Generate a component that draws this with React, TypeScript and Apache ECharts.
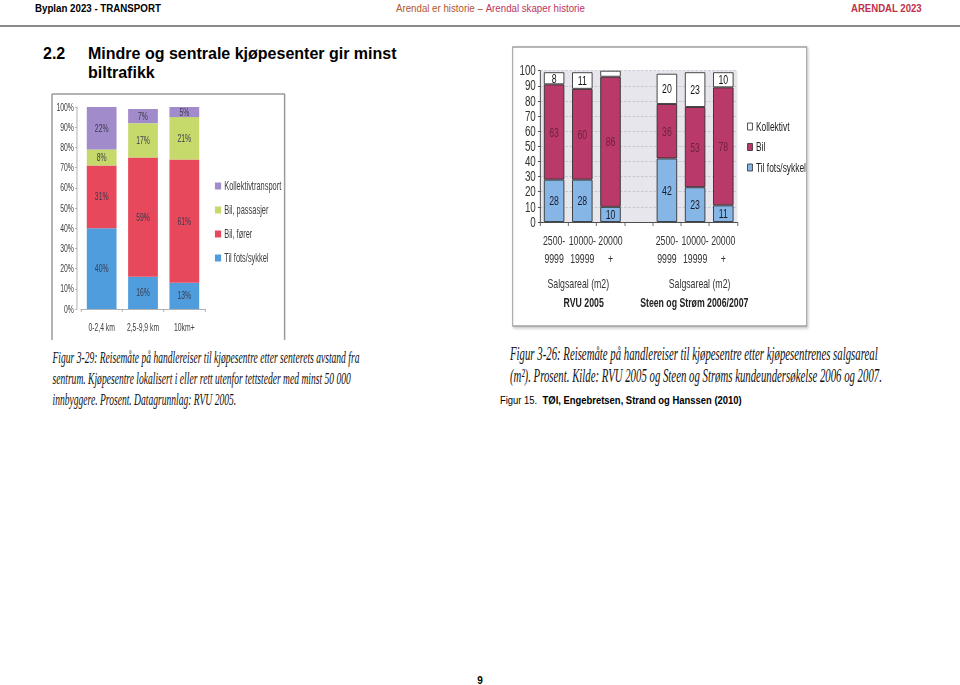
import React, { useEffect, useRef } from 'react';
import * as echarts from 'echarts';

// ---------- Data: Figur 3-29 (left chart) ----------
const leftCategories = ['0-2,4 km', '2,5-9,9 km', '10km+'];
const leftFots = [40, 16, 13];
const leftForer = [31, 59, 61];
const leftPassasjer = [8, 17, 21];
const leftKollektiv = [22, 7, 5];
const leftLegend = ['Kollektivtransport', 'Bil, passasjer', 'Bil, fører', 'Til fots/sykkel'];

// ---------- Data: Figur 3-26 (right chart) ----------
const rightCategories = ['2500-\n9999', '10000-\n19999', '20000\n+', '', '2500-\n9999', '10000-\n19999', '20000\n+'];
const rightFots = [28, 28, 10, null, 42, 23, 11];
const rightBil = [63, 60, 86, null, 36, 53, 78];
const rightKollektiv = [8, 11, 4, null, 20, 23, 10];
const rightLegend = ['Kollektivt', 'Bil', 'Til fots/sykkel'];
const rightGroupLabels = ['Salgsareal (m2)', 'Salgsareal (m2)'];
const rightGroupSources = ['RVU 2005', 'Steen og Strøm 2006/2007'];

// ---------- Page texts ----------
const headerLeft = 'Byplan 2023 - TRANSPORT';
const headerMidA = 'Arendal er historie – ';
const headerMidB = 'Arendal skaper historie';
const headerRight = 'ARENDAL 2023';
const titleNum = '2.2';
const titleLines = ['Mindre og sentrale kjøpesenter gir minst', 'biltrafikk'];
const leftCaption = [
  'Figur 3-29: Reisemåte på handlereiser til kjøpesentre etter senterets avstand fra',
  'sentrum. Kjøpesentre lokalisert i eller rett utenfor tettsteder med minst 50 000',
  'innbyggere. Prosent. Datagrunnlag: RVU 2005.',
];
const rightCaption = [
  'Figur 3-26: Reisemåte på handlereiser til kjøpesentre etter kjøpesentrenes salgsareal',
  '(m²). Prosent. Kilde: RVU 2005 og Steen og Strøms kundeundersøkelse 2006 og 2007.',
];
const sourceA = 'Figur 15.  ';
const sourceB = 'TØI, Engebretsen, Strand og Hanssen (2010)';
const pageNumber = '9';

const SANS = '"Liberation Sans", Arial, Helvetica, sans-serif';
const SERIF = '"Liberation Serif", "Times New Roman", serif';

let _ctx: CanvasRenderingContext2D | null = null;
function tw(text: string, font: string): number {
  if (!_ctx) _ctx = document.createElement('canvas').getContext('2d');
  _ctx!.font = font;
  return _ctx!.measureText(text).width;
}

function txt(
  text: string,
  x: number,
  y: number,
  o: { size: number; weight?: string; italic?: boolean; family?: string; fill?: string; scaleX?: number; align?: string }
) {
  return {
    type: 'text',
    x,
    y,
    scaleX: o.scaleX ?? 1,
    silent: true,
    style: {
      text,
      fontSize: o.size,
      fontWeight: o.weight || 'normal',
      fontStyle: o.italic ? 'italic' : 'normal',
      fontFamily: o.family || SANS,
      fill: o.fill || '#000',
      textAlign: o.align || 'left',
      align: o.align || 'left',
      textVerticalAlign: 'middle',
      verticalAlign: 'middle',
    },
  };
}

function fontStr(size: number, weight = 'normal', italic = false, family = SANS) {
  return `${italic ? 'italic ' : ''}${weight} ${size}px ${family}`;
}

const LS = 0.62; // horizontal compression of left figure
const RS = 0.7; // horizontal compression of right figure

export default function App() {
  const pageRef = useRef<HTMLDivElement>(null);
  const leftRef = useRef<HTMLDivElement>(null);
  const rightRef = useRef<HTMLDivElement>(null);

  useEffect(() => {
    // ---------------- Page ----------------
    const page = echarts.init(pageRef.current!, null, { renderer: 'svg' });
    const hlS = 126 / tw(headerLeft, fontStr(11.5, 'bold'));
    const hmS = 189 / (tw(headerMidA, fontStr(11.5)) + tw(headerMidB, fontStr(11.5)));
    const hrS = 71 / tw(headerRight, fontStr(11.5, 'bold'));
    const lcS = 307 / tw(leftCaption[0], fontStr(16, 'normal', true, SERIF));
    const rcS = 368 / tw(rightCaption[0], fontStr(19, 'normal', true, SERIF));
    const srcS = 242 / (tw(sourceA, fontStr(10.5)) + tw(sourceB, fontStr(10.5, 'bold')));

    const pageGraphic: any[] = [
      txt(headerLeft, 35, 8, { size: 11.5, weight: 'bold', scaleX: hlS }),
      {
        type: 'text',
        x: 396,
        y: 8,
        scaleX: hmS,
        silent: true,
        style: {
          text: `{a|${headerMidA}}{b|${headerMidB}}`,
          fontFamily: SANS,
          fontSize: 11.5,
          textVerticalAlign: 'middle',
          verticalAlign: 'middle',
          rich: {
            a: { fill: '#b3552f', color: '#b3552f', fontSize: 11.5, fontFamily: SANS },
            b: { fill: '#c0345a', color: '#c0345a', fontSize: 11.5, fontFamily: SANS },
          },
        },
      },
      txt(headerRight, 851, 8, { size: 11.5, weight: 'bold', fill: '#c0304a', scaleX: hrS }),
      {
        type: 'line',
        silent: true,
        shape: { x1: 0, y1: 26, x2: 960, y2: 26 },
        style: { stroke: '#8a8a8a', lineWidth: 2 },
      },
      txt(titleNum, 43, 53, { size: 16, weight: 'bold' }),
      txt(titleLines[0], 88, 53, { size: 16, weight: 'bold' }),
      txt(titleLines[1], 88, 72, { size: 16, weight: 'bold' }),
      ...leftCaption.map((l, i) =>
        txt(l, 52.5, 357.5 + i * 20.8, { size: 16, italic: true, family: SERIF, fill: '#111', scaleX: lcS })
      ),
      ...rightCaption.map((l, i) =>
        txt(l, 510, 353 + i * 22.5, { size: 19, italic: true, family: SERIF, fill: '#111', scaleX: rcS })
      ),
      {
        type: 'text',
        x: 500,
        y: 400,
        scaleX: srcS,
        silent: true,
        style: {
          text: `{n|${sourceA}}{b|${sourceB}}`,
          fontFamily: SANS,
          fontSize: 10.5,
          textVerticalAlign: 'middle',
          verticalAlign: 'middle',
          rich: {
            n: { fontSize: 10.5, fontFamily: SANS, fill: '#000', color: '#000' },
            b: { fontSize: 10.5, fontFamily: SANS, fontWeight: 'bold', fill: '#000', color: '#000' },
          },
        },
      },
      txt(pageNumber, 480, 680, { size: 10, weight: 'bold', align: 'center' }),
    ];
    page.setOption({ animation: false, backgroundColor: '#ffffff', graphic: pageGraphic });

    // ---------------- Left chart (Figur 3-29) ----------------
    const left = echarts.init(leftRef.current!, null, { renderer: 'svg' });
    const lLabel = {
      show: true,
      position: 'inside',
      formatter: '{c}%',
      fontSize: 11,
      color: '#3a3a4e',
      fontFamily: SANS,
    };
    const lSeries = (name: string, data: number[], color: string) => ({
      name,
      type: 'bar',
      stack: 'total',
      data,
      barWidth: 48,
      itemStyle: { color },
      label: lLabel,
    });
    left.setOption({
      animation: false,
      textStyle: { fontFamily: SANS },
      graphic: [
        { type: 'line', silent: true, shape: { x1: 3.2, y1: 6, x2: 379, y2: 6 }, style: { stroke: '#9a9a9a', lineWidth: 1.5 } },
        { type: 'line', silent: true, shape: { x1: 3.2, y1: 6, x2: 3.2, y2: 252 }, style: { stroke: '#9a9a9a', lineWidth: 2.4 } },
        { type: 'line', silent: true, shape: { x1: 378.4, y1: 6, x2: 378.4, y2: 252 }, style: { stroke: '#9a9a9a', lineWidth: 2.4 } },
      ],
      legend: {
        orient: 'vertical',
        left: 266,
        top: 92,
        padding: 0,
        itemWidth: 10,
        itemHeight: 7,
        itemGap: 12,
        icon: 'rect',
        data: leftLegend,
        textStyle: { fontSize: 12, lineHeight: 12, color: '#404040', fontFamily: SANS },
      },
      grid: { left: 50, top: 19, width: 200, height: 202 },
      xAxis: {
        type: 'category',
        data: leftCategories,
        axisLine: { lineStyle: { color: '#a0a0a0' } },
        axisTick: { show: true, length: 3, lineStyle: { color: '#a0a0a0' } },
        axisLabel: { fontSize: 11, color: '#404040', margin: 13, interval: 0, fontFamily: SANS },
      },
      yAxis: {
        type: 'value',
        min: 0,
        max: 100,
        interval: 10,
        offset: 6.5,
        axisLine: { show: true, lineStyle: { color: '#a0a0a0' } },
        axisTick: { show: true, length: 3, lineStyle: { color: '#a0a0a0' } },
        splitLine: { show: false },
        axisLabel: { formatter: '{value}%', fontSize: 11, color: '#404040', margin: 5, fontFamily: SANS },
      },
      series: [
        lSeries('Til fots/sykkel', leftFots, '#4f9ddc'),
        lSeries('Bil, fører', leftForer, '#e8485b'),
        lSeries('Bil, passasjer', leftPassasjer, '#c6da6c'),
        lSeries('Kollektivtransport', leftKollektiv, '#a28bca'),
      ],
    });

    // ---------------- Right chart (Figur 3-26) ----------------
    const right = echarts.init(rightRef.current!, null, { renderer: 'svg' });
    const rSeries = (name: string, data: (number | null)[], color: string, labelColor: string, minLabel: number) => ({
      name,
      type: 'bar',
      stack: 'total',
      data,
      barWidth: 29,
      itemStyle: { color, borderColor: '#2b2b2b', borderWidth: 1 },
      label: {
        show: true,
        position: 'inside',
        fontSize: 12.5,
        color: labelColor,
        fontFamily: SANS,
        formatter: (p: any) => (p.value != null && p.value >= minLabel ? String(p.value) : ''),
      },
    });
    right.setOption({
      animation: false,
      textStyle: { fontFamily: SANS },
      graphic: [
        {
          type: 'rect',
          z: -1,
          silent: true,
          shape: { x: 11, y: 7, width: 420, height: 279 },
          style: {
            fill: '#ffffff',
            stroke: '#a0a0a0',
            lineWidth: 1.5,
            shadowBlur: 3,
            shadowColor: 'rgba(0,0,0,0.25)',
            shadowOffsetX: 1.5,
            shadowOffsetY: 1.5,
          },
        },
        txt(rightGroupLabels[0], 104.7, 243.5, { size: 12.5, fill: '#333', align: 'center' }),
        txt(rightGroupLabels[1], 278, 243.5, { size: 12.5, fill: '#333', align: 'center' }),
        txt(rightGroupSources[0], 112.4, 262, { size: 12.5, weight: 'bold', fill: '#222', align: 'center' }),
        txt(rightGroupSources[1], 270.4, 262, { size: 12.5, weight: 'bold', fill: '#222', align: 'center' }),
      ],
      legend: {
        orient: 'vertical',
        left: 346,
        top: 80,
        padding: 0,
        itemWidth: 7,
        itemHeight: 7,
        itemGap: 7.5,
        icon: 'rect',
        data: rightLegend,
        itemStyle: { borderColor: '#333', borderWidth: 1 },
        textStyle: { fontSize: 12, lineHeight: 13, color: '#222', fontFamily: SANS },
      },
      grid: {
        left: 50,
        top: 30.7,
        width: 282,
        height: 151.3,
        show: true,
        backgroundColor: '#e6e6ec',
        borderWidth: 0,
      },
      xAxis: {
        type: 'category',
        data: rightCategories,
        axisLine: { lineStyle: { color: '#333' } },
        axisTick: { show: true, length: 4, lineStyle: { color: '#555' } },
        axisLabel: { fontSize: 12.5, lineHeight: 17.5, color: '#333', margin: 10, interval: 0, fontFamily: SANS },
      },
      yAxis: {
        type: 'value',
        min: 0,
        max: 100,
        interval: 10,
        axisLine: { show: true, lineStyle: { color: '#333' } },
        axisTick: { show: true, length: 3, lineStyle: { color: '#333' } },
        splitLine: { show: true, lineStyle: { color: '#c4c4d0', type: 'dashed' } },
        axisLabel: { fontSize: 14, color: '#333', margin: 6, fontFamily: SANS },
      },
      series: [
        rSeries('Til fots/sykkel', rightFots, '#86b6e6', '#1a1a2a', 5),
        rSeries('Bil', rightBil, '#b93a6a', '#6e1f3e', 5),
        rSeries('Kollektivt', rightKollektiv, '#ffffff', '#111111', 5),
      ],
    });

    return () => {
      page.dispose();
      left.dispose();
      right.dispose();
    };
  }, []);

  return (
    <div style={{ position: 'fixed', left: 0, top: 0, width: 960, height: 685, background: '#fff', overflow: 'hidden' }}>
      <div ref={pageRef} style={{ position: 'absolute', left: 0, top: 0, width: 960, height: 685 }} />
      <div
        ref={leftRef}
        style={{ position: 'absolute', left: 50, top: 88, width: 385, height: 260, transform: `scaleX(${LS})`, transformOrigin: '0 0' }}
      />
      <div
        ref={rightRef}
        style={{ position: 'absolute', left: 505, top: 40, width: 480, height: 300, transform: `scaleX(${RS})`, transformOrigin: '0 0' }}
      />
    </div>
  );
}
